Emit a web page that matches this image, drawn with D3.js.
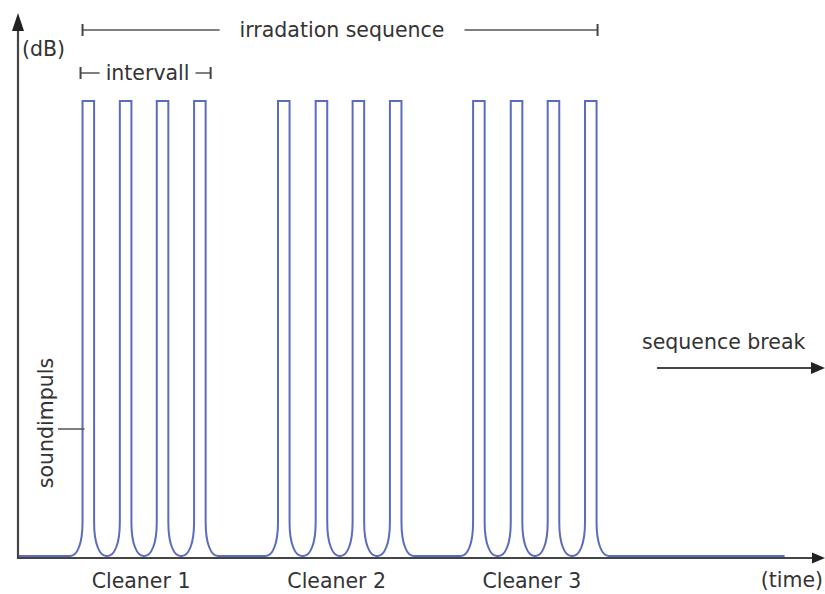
<!DOCTYPE html>
<html>
<head>
<meta charset="utf-8">
<script src="https://cdn.jsdelivr.net/npm/d3@7"></script>
<style>
  body { margin: 0; background: #fff; }
  svg { display: block; }
  text { font-family: "DejaVu Sans", sans-serif; font-size: 20.5px; fill: #333; }
</style>
</head>
<body>
<svg id="chart" width="825" height="594"></svg>
<script>
// Signal data (time in interval units, level in dB relative units)
const cleaners = ["Cleaner 1", "Cleaner 2", "Cleaner 3"];
const pulseStarts = [
    [1.73, 2.73, 3.72, 4.72],
    [6.97, 7.98, 8.97, 9.97],
    [12.2, 13.21, 14.2, 15.2]
];
const pulseWidth = 0.31;
const pulseLevel = 100;
const baseLevel = 0;
const signalEnd = 20.55;

let svg = d3.select("#chart");

let x = d3.scaleLinear().domain([0, 21.5]).range([18, 820]);
let y = d3.scaleLinear().domain([0, 100]).range([556, 101]);

const axisY = 558;   // x axis line position
const axisX = 18;    // y axis line position
const blue = "#5b6cbf";
const dark = "#444";

// rounded foot of every pulse
const rx = 0.33;   // horizontal extent of the foot curve (time units)
const ry = 7.5;    // vertical extent of the foot curve (level units)

function signalPath() {
    let p = d3.path();
    p.moveTo(x(0), y(baseLevel));
    pulseStarts.forEach(group => {
        group.forEach(t0 => {
            let t1 = t0 + pulseWidth;
            p.lineTo(x(t0 - rx), y(baseLevel));
            p.bezierCurveTo(x(t0 - rx * 0.45), y(baseLevel), x(t0), y(baseLevel + ry * 0.35), x(t0), y(baseLevel + ry));
            p.lineTo(x(t0), y(pulseLevel));
            p.lineTo(x(t1), y(pulseLevel));
            p.lineTo(x(t1), y(baseLevel + ry));
            p.bezierCurveTo(x(t1), y(baseLevel + ry * 0.35), x(t1 + rx * 0.45), y(baseLevel), x(t1 + rx), y(baseLevel));
        });
    });
    p.lineTo(x(signalEnd), y(baseLevel));
    return p.toString();
}

svg.append("path")
    .attr("d", signalPath())
    .attr("fill", "none")
    .attr("stroke", blue)
    .attr("stroke-width", 2)
    .attr("stroke-linejoin", "miter");

// axes with arrow heads
svg.append("line")
    .attr("x1", axisX).attr("y1", axisY + 1)
    .attr("x2", axisX).attr("y2", 28)
    .attr("stroke", dark).attr("stroke-width", 2.2);
svg.append("polygon")
    .attr("points", [[axisX, 13], [axisX - 6, 31], [axisX + 6, 31]].join(" "))
    .attr("fill", "#222");

svg.append("line")
    .attr("x1", axisX - 1).attr("y1", axisY)
    .attr("x2", 814).attr("y2", axisY)
    .attr("stroke", dark).attr("stroke-width", 2.2);
svg.append("polygon")
    .attr("points", [[825, axisY], [812, axisY - 5.5], [812, axisY + 5.5]].join(" "))
    .attr("fill", "#222");

svg.append("text").attr("x", 22).attr("y", 56).text("(dB)");
svg.append("text").attr("x", 823).attr("y", 587).attr("text-anchor", "end").text("(time)");

// cleaner labels under each group of pulses
svg.selectAll(".cleaner").data(cleaners).enter().append("text")
    .attr("class", "cleaner")
    .attr("x", (d, i) => (x(pulseStarts[i][0]) + x(pulseStarts[i][3] + pulseWidth)) / 2 - 3)
    .attr("y", 588)
    .attr("text-anchor", "middle")
    .text(d => d);

// bracket with a gap for the label
function bracket(x0, x1, yy, label, ty, pad, tickH) {
    let g = svg.append("g");
    let t = g.append("text")
        .attr("x", (x0 + x1) / 2 + 2)
        .attr("y", ty)
        .attr("text-anchor", "middle")
        .text(label);
    let bb = t.node().getBBox();
    let seg = [[x0, bb.x - pad], [bb.x + bb.width + pad, x1]];
    g.selectAll("line.seg").data(seg).enter().append("line")
        .attr("x1", d => d[0]).attr("x2", d => d[1])
        .attr("y1", yy).attr("y2", yy)
        .attr("stroke", "#555").attr("stroke-width", 1.5);
    g.selectAll("line.tick").data([x0, x1]).enter().append("line")
        .attr("x1", d => d).attr("x2", d => d)
        .attr("y1", yy - tickH).attr("y2", yy + tickH)
        .attr("stroke", "#444").attr("stroke-width", 2);
}

let firstStart = x(pulseStarts[0][0]);
let lastEnd = x(pulseStarts[2][3] + pulseWidth);
let groupEnd = x(pulseStarts[0][3] + pulseWidth);

bracket(firstStart, lastEnd + 1, 30, "irradation sequence", 37, 20, 6);
bracket(firstStart - 2, groupEnd + 5, 73, "intervall", 80, 6, 6);

// soundimpuls label with leader line
svg.append("text")
    .attr("transform", "translate(53,423) rotate(-90)")
    .attr("text-anchor", "middle")
    .text("soundimpuls");
svg.append("line")
    .attr("x1", 58).attr("x2", firstStart + 2)
    .attr("y1", 429).attr("y2", 429)
    .attr("stroke", "#555").attr("stroke-width", 1.5);

// sequence break arrow
svg.append("text").attr("x", 642).attr("y", 349).text("sequence break");
svg.append("line")
    .attr("x1", 657).attr("x2", 814)
    .attr("y1", 368).attr("y2", 368)
    .attr("stroke", dark).attr("stroke-width", 1.8);
svg.append("polygon")
    .attr("points", [[825, 368], [811, 362], [811, 374]].join(" "))
    .attr("fill", "#222");
</script>
</body>
</html>
